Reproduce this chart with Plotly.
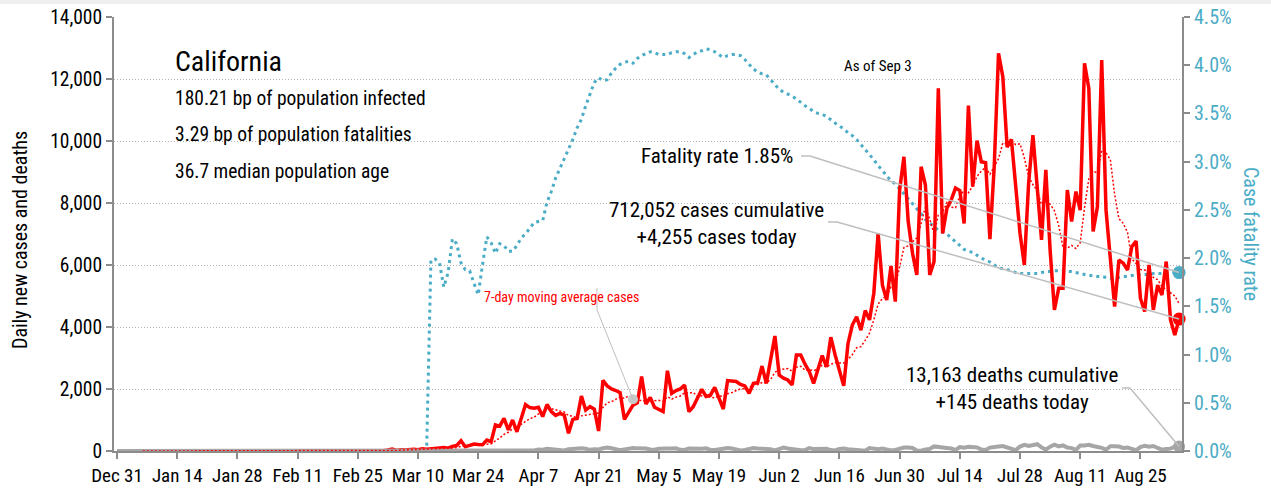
import pandas as pd
import plotly.graph_objects as go

# ---------------- data ----------------
dates = pd.date_range("2019-12-31", "2020-09-03", freq="D")  # 248 days

# daily new cases: Dec 31 - Feb 29 are zero, values from Mar 1 to Sep 3
cases_before_mar = [0] * 61
cases_from_mar1 = [
    20, 10, 30, 60, 20, 40, 30, 50, 60, 40,
    70, 60, 80, 90, 100, 110, 90, 150, 180, 330,
    140, 180, 225, 210, 200, 355, 300, 840, 800, 1050,
    680, 1000, 620, 1050, 1500, 1400, 1380, 1410, 1110, 1500,
    1270, 1150, 1215, 1160, 570, 1020, 1050, 1770, 1320, 1430,
    1350, 645, 2280, 2100, 2000, 1950, 1880, 1020, 1250, 1480,
    1550, 2400, 1515, 1730, 1410, 1350, 1270, 2590, 1860, 1950,
    2000, 2130, 1270, 1430, 1700, 1990, 1760, 1800, 2050, 1700,
    1355, 2270, 2250, 2240, 2150, 2100, 1860, 2180, 2200, 2740,
    2180, 2900, 3710, 2450, 2350, 2290, 2130, 3100, 3100, 2800,
    2560, 2180, 2600, 3080, 2710, 3670, 3100, 2600, 2100, 3470,
    4065, 4330, 3900, 4530, 4230, 5090, 7020, 5350, 4870, 5970,
    4820, 8420, 9490, 7400, 6380, 5680, 9170, 8580, 5680, 6110,
    11700, 7020, 7830, 8100, 8480, 8400, 7340, 11140, 8530, 10010,
    9330, 9300, 6830, 9170, 12830, 12075, 9800, 10050, 8420, 7020,
    6000, 8640, 10190, 8530, 6810, 9070, 6480, 4550, 5250, 5250,
    8420, 7400, 8370, 7770, 12510, 11700, 7080, 7880, 12610, 7770,
    6270, 4660, 6160, 6060, 5840, 6590, 6770, 4930, 4500, 6000,
    4550, 5350, 5030, 6110, 4230, 3740, 4255,
]
daily_cases = cases_before_mar + cases_from_mar1

# daily deaths
deaths_before_mar = [0] * 61
deaths_from_mar1 = [
    # Mar
    0, 0, 0, 1, 0, 1, 0, 1, 1, 0, 1, 1, 2, 1, 3, 2, 3, 3, 5, 4,
    6, 5, 6, 11, 10, 13, 14, 18, 12, 15, 20,
    # Apr
    24, 31, 24, 32, 28, 15, 51, 40, 68, 54, 40, 19, 20, 54, 74,
    95, 86, 74, 38, 55, 51, 90, 115, 88, 72, 28, 53, 79, 95, 85,
    # May
    87, 81, 47, 43, 75, 94, 81, 77, 85, 37, 34, 80, 72, 86, 75, 87,
    34, 32, 60, 97, 94, 81, 63, 18, 33, 62, 97, 79, 82, 79, 60,
    # Jun
    22, 58, 108, 80, 58, 59, 22, 31, 92, 61, 63, 66, 75, 30, 16,
    66, 78, 57, 45, 65, 29, 12, 95, 73, 58, 81, 40, 21, 34, 71,
    # Jul
    112, 113, 96, 14, 12, 46, 67, 147, 120, 99, 97, 81, 36, 126, 107, 133,
    124, 117, 47, 33, 110, 137, 143, 157, 114, 77, 27, 145, 197, 160, 180,
    # Aug
    219, 116, 44, 138, 202, 146, 181, 112, 93, 38, 178, 177, 199, 160, 132, 101,
    42, 153, 156, 143, 97, 109, 71, 26, 126, 171, 140, 160, 97, 44, 62,
    # Sep
    76, 139, 145,
]
daily_deaths = deaths_before_mar + deaths_from_mar1

# case fatality rate (%), zero until Mar 12, values from Mar 13 to Sep 3
cfr_before = [0] * 73
cfr_from_mar13 = [
    1.98, 1.99, 1.95, 1.70, 1.85, 2.20, 2.15, 1.95, 1.88, 1.87,
    1.74, 1.62, 1.93, 2.22, 2.16, 2.05, 2.15, 2.13, 2.07, 2.07,
    2.13, 2.21, 2.25, 2.31, 2.37, 2.38, 2.39, 2.58, 2.69, 2.83,
    2.93, 3.02, 3.12, 3.23, 3.35, 3.44, 3.58, 3.71, 3.82, 3.87,
    3.84, 3.85, 3.92, 3.97, 4.01, 4.03, 4.04, 4.02, 4.07, 4.10,
    4.12, 4.14, 4.13, 4.11, 4.11, 4.11, 4.13, 4.14, 4.14, 4.12,
    4.08, 4.11, 4.14, 4.15, 4.17, 4.16, 4.14, 4.11, 4.08, 4.10,
    4.11, 4.11, 4.10, 4.06, 4.01, 3.96, 3.93, 3.91, 3.90, 3.85,
    3.80, 3.75, 3.72, 3.70, 3.68, 3.65, 3.61, 3.58, 3.55, 3.52,
    3.50, 3.49, 3.47, 3.43, 3.40, 3.37, 3.34, 3.30, 3.27, 3.23,
    3.18, 3.13, 3.08, 3.02, 2.96, 2.91, 2.85, 2.80, 2.77, 2.72,
    2.66, 2.61, 2.56, 2.52, 2.46, 2.40, 2.36, 2.33, 2.29, 2.27,
    2.25, 2.21, 2.17, 2.13, 2.09, 2.07, 2.06, 2.03, 2.00, 1.98,
    1.96, 1.93, 1.90, 1.89, 1.88, 1.87, 1.85, 1.84, 1.84, 1.84,
    1.84, 1.84, 1.85, 1.86, 1.86, 1.87, 1.87, 1.87, 1.86, 1.86,
    1.85, 1.84, 1.83, 1.82, 1.82, 1.81, 1.81, 1.80, 1.79, 1.79,
    1.80, 1.81, 1.81, 1.82, 1.82, 1.83, 1.83, 1.83, 1.84, 1.84,
    1.84, 1.84, 1.85, 1.85, 1.85,
]
cfr = cfr_before + cfr_from_mar13

tick_start = "2019-12-31"
callout_date = "2020-04-29"

title_text = "California"
info_lines = ["180.21 bp of population infected",
              "3.29 bp of population fatalities",
              "36.7 median population age"]

# ---------------- derived ----------------
cases_s = pd.Series(daily_cases, index=dates)
ma7 = cases_s.rolling(7).mean()

# ---------------- styling ----------------
FONT = "Roboto Condensed, Open Sans Condensed, sans-serif"
RED = "#ff0000"
BLUE = "#4bacc6"
GRAY = "#a6a6a6"
LEAD = "#bfbfbf"
AXIS = "#8c8c8c"

W, H = 1271, 491
ML, MR, MT, MB = 114, 89, 17, 40
PW, PH = W - ML - MR, H - MT - MB

x_start = pd.Timestamp("2019-12-30 07:12")
x_end = pd.Timestamp("2020-09-03 16:05")
CASE_MAX, CFR_MAX = 14000, 4.5


def px(xp):
    return (xp - ML) / PW


def py(yp):
    return (MT + PH - yp) / PH


def date_paper(d):
    d = pd.Timestamp(d)
    return (d - x_start) / (x_end - x_start)


fig = go.Figure()

fig.add_trace(go.Scatter(x=dates, y=cfr, yaxis="y", mode="lines",
                         line=dict(color=BLUE, width=3, dash="3px,4px"),
                         hoverinfo="skip"))
fig.add_trace(go.Scatter(x=dates, y=daily_cases, yaxis="y2", mode="lines",
                         line=dict(color=RED, width=3.5), hoverinfo="skip"))
fig.add_trace(go.Scatter(x=dates, y=daily_deaths, yaxis="y2", mode="lines",
                         line=dict(color=GRAY, width=4), hoverinfo="skip"))
fig.add_trace(go.Scatter(x=dates, y=ma7, yaxis="y2", mode="lines",
                         line=dict(color=RED, width=1.5, dash="2px,2px"),
                         hoverinfo="skip"))
# end markers
fig.add_trace(go.Scatter(x=[dates[-1]], y=[cfr[-1]], yaxis="y", mode="markers",
                         marker=dict(color=BLUE, size=13), cliponaxis=False))
fig.add_trace(go.Scatter(x=[dates[-1]], y=[daily_cases[-1]], yaxis="y2", mode="markers",
                         marker=dict(color=RED, size=13), cliponaxis=False))
fig.add_trace(go.Scatter(x=[dates[-1]], y=[daily_deaths[-1]], yaxis="y2", mode="markers",
                         marker=dict(color=GRAY, size=12), cliponaxis=False))
fig.add_trace(go.Scatter(x=[pd.Timestamp(callout_date)], y=[ma7[callout_date]], yaxis="y2",
                         mode="markers", marker=dict(color="#c8c8c8", size=10)))

annotations = []


def text(x, y, s, size=19.5, color="black", xanchor="left", align="left", angle=0):
    annotations.append(dict(x=px(x), y=py(y), xref="paper", yref="paper", text=s,
                            showarrow=False, xanchor=xanchor, yanchor="middle",
                            align=align, textangle=angle,
                            font=dict(family=FONT, size=size, color=color)))


text(173, 61, title_text, size=28)
text(173, 99, info_lines[0])
text(173, 134, info_lines[1])
text(173, 171, info_lines[2])
text(878, 66, "As of Sep 3", size=15, xanchor="center")
text(795, 156, "Fatality rate 1.85%", size=21, xanchor="right", align="right")
text(716, 223, "712,052 cases cumulative<br>+4,255 cases today", size=21,
     xanchor="center", align="center")
text(1012, 388, "13,163 deaths cumulative<br>+145 deaths today", size=21,
     xanchor="center", align="center")
text(482, 297, "7-day moving average cases", size=14, color=RED)
text(20, 240, "Daily new cases and deaths", size=20, xanchor="center", align="center", angle=-90)
text(1251, 234, "Case fatality rate", size=20, color=BLUE, xanchor="center", align="center", angle=90)

shapes = []


def seg(x0, y0, x1, y1, width=1.5):
    shapes.append(dict(type="line", xref="paper", yref="paper", x0=x0, y0=y0, x1=x1, y1=y1,
                       line=dict(color=LEAD, width=width), layer="above"))


end_x = date_paper(dates[-1])
seg(px(801), py(156), px(810), py(156))
seg(px(810), py(156), end_x, cfr[-1] / CFR_MAX)
seg(px(828), py(222), px(837), py(222))
seg(px(837), py(222), end_x, daily_cases[-1] / CASE_MAX)
seg(px(1122), py(388), px(1130), py(388))
seg(px(1130), py(388), end_x, daily_deaths[-1] / CASE_MAX)
seg(px(597), py(288), px(597), py(310), width=1)
seg(px(597), py(310), date_paper(callout_date), ma7[callout_date] / CASE_MAX, width=1)

# thin light band at top of the page
shapes.append(dict(type="rect", xref="paper", yref="paper", x0=-ML / PW, x1=(W - ML) / PW,
                   y0=py(4), y1=py(0), fillcolor="#efefef", line=dict(width=0), layer="below"))

axis_common = dict(zeroline=False, showline=True, linecolor=AXIS, linewidth=2,
                   ticks="outside", ticklen=6, tickcolor=AXIS, tickwidth=1.5, automargin=False)

fig.update_layout(
    width=W, height=H,
    margin=dict(l=ML, r=MR, t=MT, b=MB, autoexpand=False),
    paper_bgcolor="white", plot_bgcolor="white",
    showlegend=False,
    font=dict(family=FONT, size=19, color="black"),
    xaxis=dict(type="date", range=[x_start, x_end], tick0=tick_start,
               dtick=14 * 86400000, tickformat="%b %-d", tickangle=0,
               showgrid=False, tickfont=dict(family=FONT, size=19, color="black"),
               **axis_common),
    yaxis=dict(range=[0, CFR_MAX], side="right", dtick=0.5, tickformat=".1f", ticksuffix="%",
               showgrid=False, tickfont=dict(family=FONT, size=20, color=BLUE),
               **axis_common),
    yaxis2=dict(range=[0, CASE_MAX], overlaying="y", side="left", dtick=2000, tickformat=",",
                showgrid=True, gridcolor="#b5b5b5", gridwidth=1, griddash="1px,2px",
                tickfont=dict(family=FONT, size=19.5, color="black"),
                **axis_common),
    annotations=annotations,
    shapes=shapes,
)

fig.write_html("out.html",
               config={"displayModeBar": False, "displaylogo": False},
               post_script="document.body.style.margin='0';document.body.style.padding='0';")
